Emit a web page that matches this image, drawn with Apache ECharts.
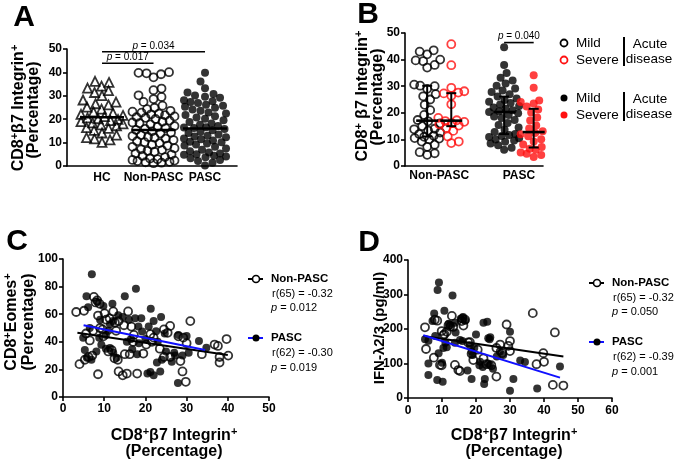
<!DOCTYPE html>
<html><head><meta charset="utf-8">
<script src="https://cdn.jsdelivr.net/npm/echarts@6/dist/echarts.min.js"></script>
<style>html,body{margin:0;padding:0;background:#fff}#c{width:675px;height:460px}</style>
</head><body><div id="c"></div>
<script>
// ---------- Panel A data ----------
const catsA = ['HC', 'Non-PASC', 'PASC'];
const hcA = [36.2, 35.7, 34.1, 33.3, 32.2, 31.4, 30.1, 28.2, 27.3, 26.6, 26.1, 25.2, 24.3, 23.1, 22.6, 22.1, 21.6, 21.1, 20.6, 20.2, 19.9, 19.4, 19.0, 18.4, 18.0, 17.6, 17.2, 16.4, 16.1, 15.2, 14.1, 13.2, 12.1, 11.6, 11.2, 10.1];
const nonPascA = [40.1, 39.8, 39.6, 39.2, 37.9, 33.1, 32.4, 30.2, 29.5, 28.6, 27.4, 25.8, 24.9, 24.3, 23.6, 23.2, 22.8, 22.1, 21.7, 21.2, 20.6, 20.1, 19.4, 18.9, 18.3, 17.8, 17.1, 16.7, 16.2, 15.9, 15.4, 14.8, 14.3, 13.9, 13.2, 12.8, 12.4, 11.7, 11.1, 10.6, 10.2, 9.8, 9.1, 8.7, 8.2, 7.6, 7.1, 6.5, 6.1, 5.4, 4.9, 4.3, 3.8, 3.2, 2.9, 2.6, 2.3, 2.1, 1.8, 1.6, 1.4, 1.2, 22.4, 20.9, 18.6, 12.1, 6.8];
const pascA = [39.8, 36.1, 33.2, 31.4, 30.8, 30.1, 29.6, 29.2, 28.1, 27.7, 27.3, 26.9, 26.2, 25.8, 25.3, 24.9, 24.1, 23.6, 22.9, 22.4, 21.3, 20.7, 20.2, 19.6, 18.8, 18.2, 17.6, 17.1, 16.6, 16.2, 15.8, 15.3, 14.6, 14.1, 13.5, 12.9, 12.3, 11.8, 11.4, 10.9, 10.4, 10.1, 9.6, 8.8, 8.2, 7.5, 6.9, 6.3, 5.8, 5.3, 4.8, 4.4, 4.1, 3.7, 3.3, 2.6, 2.1, 1.4, 0.2, 16.4, 21.8, 12.6, 9.2, 5.0];
const sigPairsA = [[0, 1, 43.9], [0, 2, 48.8]];
const sigLabelsA = ['0.017', '0.034'];

// ---------- Panel B data ----------
const catsB = ['Non-PASC', 'PASC'];
const severityB = ['Mild', 'Severe'];
const diseaseLabelB = ['Acute', 'disease'];
const nonPascMildB = [43.5, 43.0, 42.0, 40.0, 39.7, 39.4, 38.0, 37.0, 30.6, 30.2, 30.0, 29.0, 27.0, 26.2, 25.0, 23.0, 21.0, 19.2, 17.3, 16.8, 16.0, 15.0, 14.0, 13.3, 12.6, 12.0, 11.4, 11.0, 10.5, 10.0, 9.2, 8.0, 7.2, 5.2, 4.8, 4.2, 13.8, 10.3];
const nonPascSevereB = [45.8, 37.9, 29.4, 28.1, 27.6, 27.3, 26.4, 23.2, 16.9, 18.1, 17.2, 16.6, 16.1, 15.7, 15.2, 14.3, 13.2, 11.1, 9.2, 8.6];
const pascMildB = [44.6, 38.0, 35.0, 33.2, 32.1, 31.0, 30.2, 29.1, 28.4, 27.8, 27.0, 26.1, 25.4, 24.8, 24.2, 23.7, 23.1, 22.6, 22.0, 21.5, 21.0, 20.6, 20.3, 19.8, 19.2, 18.6, 18.0, 17.3, 16.2, 15.4, 14.5, 13.6, 12.8, 12.0, 11.3, 10.9, 10.4, 10.0, 9.6, 9.1, 8.5, 7.8, 6.9, 6.1, 11.7];
const pascSevereB = [34.1, 29.4, 24.6, 24.1, 23.5, 23.0, 22.4, 21.2, 20.1, 18.2, 17.1, 15.2, 14.1, 13.1, 12.4, 11.9, 11.2, 10.1, 9.2, 8.1, 7.1, 6.5, 6.1, 5.6, 5.1, 4.6, 4.1, 3.4];
const sigPairsB = [[2, 3, 46.4]];
const sigLabelsB = ['0.040'];

// ---------- Panel C data ----------
const seriesNames = ['Non-PASC', 'PASC'];
const nonPascC = [[3.2,61.6],[5.1,62.5],[4.0,23.8],[5.6,46],[7.3,48],[7.5,72.5],[8.3,70],[8.9,67.5],[7.9,68.5],[8.5,59],[10.1,60.6],[10.5,56],[9.0,50],[9.6,49],[7.1,30],[6.2,29],[5.3,27],[8.5,16.5],[12.9,48],[12.2,62],[11.3,57],[13.5,55],[12.6,54],[15.8,62],[16.6,51],[15.0,31],[16.2,31],[17.2,45],[18.0,17],[13.5,18.5],[14.5,15.7],[15.5,17],[11.8,34],[11.0,33],[12.5,28],[13.3,27],[19.5,31.5],[21.2,45.5],[22.0,43],[24.5,49],[25.4,46.5],[26.0,51.5],[28.0,44],[29.2,43],[30.9,55],[30.0,39],[28.5,26],[29.0,18.5],[29.8,11],[23.5,35],[26.0,29],[24.5,29],[33.7,31],[36.8,38],[37.6,37],[38.0,29],[38.0,25],[39.7,42],[40.1,30],[21.6,40],[20.2,38],[17.0,40],[14.8,52],[9.8,44],[6.5,41]];
const pascC = [[7,89],[5.7,73],[6.1,65],[8.3,69],[9.8,66],[12,67.5],[15,73],[17.7,78.5],[21.3,64],[23.8,58],[22,55],[20.8,51],[19.2,47.5],[18.4,39],[16.8,34.6],[13.4,59.3],[12.2,55],[11.4,52.7],[10.4,45],[8.8,43],[4.9,43],[5.3,34],[5.8,28.4],[6.9,27],[8.1,33],[9.3,37.8],[10.4,35],[11.4,35.5],[12.2,32],[13,28.5],[21.2,18.1],[22,15.8],[23.6,18.5],[26.4,25.5],[27.2,30],[22.8,25],[24.7,46],[28,45],[30,44.2],[33,40.6],[34.8,35.6],[27.9,10.2],[18.3,51],[22.6,47.6],[14.5,58],[16,56],[17.5,57],[19,57],[15.5,40],[18,31],[20,42],[23,40],[25,33],[27,32],[29,30],[30.5,32],[6.5,50],[9,56],[11,48],[16.5,42],[24,27],[20.5,17]];
const fitNonPascC = [[3.5, 46.5], [40, 30.5]];
const fitPascC = [[5, 52], [34.5, 34]];
const statsC = ['r(65) = -0.32', 'r(62) = -0.30'];
const pValsC = ['0.012', '0.019'];

// ---------- Panel D data ----------
const nonPascD = [[5,205],[5.3,142],[7.9,227],[7.6,117],[9.4,96],[9.9,194],[10.4,182],[11.4,192],[11.9,211],[12.9,238],[13.3,206],[13.8,96],[15.3,78],[16.3,210],[16.8,227],[15.8,223],[18.2,162],[18.7,128],[19.2,110],[23.1,98],[22.2,115],[26,62],[27.7,130],[29,213],[29.5,151],[30,165],[30,136],[36.7,246],[37.8,98],[39.8,130],[40,105],[42.6,38],[43.2,190],[45.7,36],[8.6,224],[9.9,95],[10.7,185],[14.8,81],[17.7,161],[27.1,155],[26,145],[12.4,207],[16,230],[20.5,140],[24.5,95]];
const pascD = [[9.1,335],[8.7,313],[13.1,297],[7.7,245],[10.7,253],[7.2,223],[12.4,211],[13.8,218],[15.5,230],[16.2,235],[16.8,225],[22.2,218],[23.3,221],[20,184],[23.6,173],[24.2,176],[30,192],[5,170],[6,166],[10.4,145],[11.4,147],[15.3,168],[18.2,153],[18.7,134],[21.2,105],[24.1,96],[26.1,120],[27,135],[33,109],[34.4,104],[6,100],[6,67],[8.6,52],[10.2,47],[18.7,55],[22.4,40.6],[22.6,55],[31,55],[30,21],[38,27.5],[44.7,91],[12,215],[14,190],[16,165],[19,125],[21,95],[22,90],[25,85],[28,125],[17.5,80],[9,130],[11,160],[19.5,145],[23.5,100],[13.8,160],[10,102],[24,170],[8,180]];
const fitNonPascD = [[4.5, 180], [45.7, 120]];
const fitPascD = [[4.5, 182], [44.7, 59]];
const statsD = ['r(65) = -0.32', 'r(62) = -0.39'];
const pValsD = ['0.050', '0.001'];

// ---------- layout / helpers ----------
const FF = '"Liberation Sans", Arial, Helvetica, sans-serif';
const RED = '#ff1010';
const BLUE = '#1010ff';
const SYM = 8;
const posA = [1, 2, 3];
const posB = [1.06, 1.94, 3.87, 4.95];
const G = [
  {left: 67, top: 49, width: 170, height: 117},
  {left: 405, top: 33, width: 138, height: 133},
  {left: 63, top: 259, width: 206, height: 138},
  {left: 408, top: 260, width: 204, height: 138}
];
const XR = [[0.32, 3.621], [0.25, 5.29], [0, 50], [0, 60]];
const YR = [[0, 50], [0, 50], [0, 100], [0, 400]];
const pxX = i => G[i].width / (XR[i][1] - XR[i][0]);
const pxY = i => G[i].height / (YR[i][1] - YR[i][0]);

function swarm(vals, pos, gi, diam, maxHalf) {
  const py = pxY(gi), px = pxX(gi);
  const order = vals.map((v, i) => i).sort((a, b) => vals[a] - vals[b]);
  const placed = [], out = [];
  order.forEach((i, n) => {
    const y = vals[i] * py;
    const sgn = n % 2 ? 1 : -1;
    let best = 0, bestD = -1;
    for (let k = 0; k <= maxHalf * 4; k++) {
      const c = (k % 2 ? sgn : -sgn) * Math.ceil(k / 2) * 0.5;
      let dmin = Infinity;
      for (const p of placed) { const d = Math.hypot(p[0] - c, p[1] - y); if (d < dmin) dmin = d; }
      if (dmin >= diam) { best = c; bestD = dmin; break; }
      if (dmin > bestD) { bestD = dmin; best = c; }
    }
    placed.push([best, y]);
    out.push([pos + best / px, vals[i]]);
  });
  return out;
}
function quant(arr, q) {
  const s = [...arr].sort((a, b) => a - b);
  const p = (s.length - 1) * q, lo = Math.floor(p), hi = Math.ceil(p);
  return s[lo] + (s[hi] - s[lo]) * (p - lo);
}

const axisLine = {show: true, onZero: false, lineStyle: {color: '#000', width: 1.6}};
const axisTick = {show: true, length: 4, lineStyle: {color: '#000', width: 1.6}};
const lbl = {color: '#000', fontWeight: 'bold', fontSize: 12, fontFamily: FF};

function xAx(i, extra) {
  return Object.assign({gridIndex: i, type: 'value', min: XR[i][0], max: XR[i][1],
    axisLine, axisTick, splitLine: {show: false}, axisLabel: Object.assign({}, lbl, {margin: 6})}, extra || {});
}
function yAx(i, interval) {
  return {gridIndex: i, type: 'value', min: YR[i][0], max: YR[i][1], interval,
    axisLine, axisTick, splitLine: {show: false}, axisLabel: Object.assign({}, lbl, {margin: 5})};
}

const openStyle = c => ({color: 'rgba(255,255,255,0)', borderColor: c, borderWidth: 1.8});
const fillStyle = c => ({color: c, borderColor: c, borderWidth: 0});

function medianSeries(gi, data, hw, bars) {
  return {
    type: 'custom', xAxisIndex: gi, yAxisIndex: gi, z: 10, silent: true,
    encode: {x: 0, y: [1, 2, 3]},
    data,
    renderItem: (params, api) => {
      const x = api.value(0);
      const pm = api.coord([x, api.value(1)]);
      const ch = [];
      if (bars) {
        const pl = api.coord([x, api.value(2)]), ph = api.coord([x, api.value(3)]);
        ch.push({type: 'line', shape: {x1: pm[0], y1: pl[1], x2: pm[0], y2: ph[1]}, style: {stroke: '#000', lineWidth: 2}});
        ch.push({type: 'line', shape: {x1: pm[0] - 5, y1: pl[1], x2: pm[0] + 5, y2: pl[1]}, style: {stroke: '#000', lineWidth: 2}});
        ch.push({type: 'line', shape: {x1: pm[0] - 5, y1: ph[1], x2: pm[0] + 5, y2: ph[1]}, style: {stroke: '#000', lineWidth: 2}});
      }
      ch.push({type: 'line', shape: {x1: pm[0] - hw, y1: pm[1], x2: pm[0] + hw, y2: pm[1]}, style: {stroke: '#000', lineWidth: 2.6}});
      return {type: 'group', children: ch};
    }
  };
}
function sigSeries(gi, data, labels) {
  return {
    type: 'custom', xAxisIndex: gi, yAxisIndex: gi, z: 10, silent: true,
    encode: {x: [0, 1], y: 2},
    data,
    renderItem: (params, api) => {
      const p1 = api.coord([api.value(0), api.value(2)]);
      const p2 = api.coord([api.value(1), api.value(2)]);
      return {type: 'group', children: [
        {type: 'line', shape: {x1: p1[0], y1: p1[1], x2: p2[0], y2: p2[1]}, style: {stroke: '#000', lineWidth: 1.6}},
        {type: 'text', x: (p1[0] + p2[0]) / 2, y: p1[1] - 1, style: {
          text: '{i|p}{n| = ' + labels[params.dataIndex] + '}',
          rich: {i: {fontStyle: 'italic', fontSize: 10, fontFamily: FF, fill: '#000'}, n: {fontSize: 10, fontFamily: FF, fill: '#000'}},
          fontSize: 10, fontFamily: FF, fill: '#000',
          align: 'center', verticalAlign: 'bottom', textAlign: 'center', textVerticalAlign: 'bottom'}}
      ]};
    }
  };
}

// ---------- text helpers ----------
function richTitle(parts) {
  return parts.map(p => (p[1] ? '{s|' : '{b|') + p[0] + '}').join('');
}
function tText(x, y, text, fs, rot, extraRich) {
  return {type: 'text', x, y, rotation: rot || 0, silent: true, style: {
    text, fontSize: fs, fontWeight: 'bold', fontFamily: FF, fill: '#000',
    align: 'center', verticalAlign: 'middle', textAlign: 'center', textVerticalAlign: 'middle',
    rich: Object.assign({
      b: {fontSize: fs, fontWeight: 'bold', fontFamily: FF, fill: '#000', lineHeight: fs + 3},
      s: {fontSize: Math.round(fs * 0.7), fontWeight: 'bold', fontFamily: FF, fill: '#000', lineHeight: Math.round(fs * 0.55), verticalAlign: 'top'}
    }, extraRich || {})
  }};
}
function plainText(x, y, text, fs, opts) {
  return {type: 'text', x, y, silent: true, style: Object.assign({
    text, fontSize: fs, fontFamily: FF, fill: '#000',
    align: 'left', verticalAlign: 'middle', textAlign: 'left', textVerticalAlign: 'middle'}, opts || {})};
}
function pText(x, y, val, fs) {
  return {type: 'text', x, y, silent: true, style: {
    text: '{i|p}{n| = ' + val + '}',
    rich: {i: {fontStyle: 'italic', fontSize: fs, fontFamily: FF, fill: '#000'}, n: {fontSize: fs, fontFamily: FF, fill: '#000'}},
    fontSize: fs, fontFamily: FF, fill: '#000',
    align: 'left', verticalAlign: 'middle', textAlign: 'left', textVerticalAlign: 'middle'}};
}
function legendLine(x, y, color, filled) {
  return [
    {type: 'line', silent: true, shape: {x1: x, y1: y, x2: x + 15, y2: y}, style: {stroke: color, lineWidth: 2}},
    {type: 'circle', silent: true, shape: {cx: x + 8, cy: y, r: 3.5}, style: filled ? {fill: '#000'} : {fill: '#fff', stroke: '#000', lineWidth: 1.6}}
  ];
}
function corrLegend(x, y, stats, pvals) {
  const out = [];
  out.push(...legendLine(x, y, '#000', false));
  out.push(plainText(x + 23, y, seriesNames[0], 11.5, {fontWeight: 'bold'}));
  out.push(plainText(x + 24, y + 15, stats[0], 11));
  out.push(pText(x + 23, y + 29, pvals[0], 11));
  const y2 = y + 59;
  out.push(...legendLine(x, y2, BLUE, true));
  out.push(plainText(x + 23, y2, seriesNames[1], 11.5, {fontWeight: 'bold'}));
  out.push(plainText(x + 24, y2 + 15, stats[1], 11));
  out.push(pText(x + 23, y2 + 30, pvals[1], 11));
  return out;
}
function sevLegend(y, filled) {
  const out = [];
  [0, 1].forEach(k => {
    const c = k ? RED : '#000';
    const yy = y + k * 17;
    out.push({type: 'circle', silent: true, shape: {cx: 564, cy: yy, r: 3.5},
      style: filled ? {fill: c} : {fill: '#fff', stroke: c, lineWidth: 1.8}});
    out.push(plainText(576, yy, severityB[k], 13.5));
  });
  out.push({type: 'line', silent: true, shape: {x1: 624, y1: y - 6, x2: 624, y2: y + 23}, style: {stroke: '#000', lineWidth: 2}});
  out.push(plainText(650, y + 1, diseaseLabelB[0], 13.5, {align: 'center', textAlign: 'center'}));
  out.push(plainText(649, y + 16, diseaseLabelB[1], 13.5, {align: 'center', textAlign: 'center'}));
  return out;
}

const integrinTitle = richTitle([['CD8', 0], ['+', 1], ['β7 Integrin', 0], ['+', 1]]);
const integrinTitleB = richTitle([['CD8', 0], ['+', 1], [' β7 Integrin', 0], ['+', 1]]);
const eomesTitle = richTitle([['CD8', 0], ['+', 1], ['Eomes', 0], ['+', 1]]);
const pctTitle = richTitle([['(Percentage)', 0]]);
const ifnTitle = richTitle([['IFN-λ2/3 (pg/ml)', 0]]);
const R = Math.PI / 2;
const bigLetter = {b: {fontSize: 30, fontWeight: 'bold', fontFamily: FF, fill: '#000'}};

const graphics = [
  tText(24, 18, '{b|A}', 30, 0, bigLetter),
  tText(368, 15, '{b|B}', 30, 0, bigLetter),
  tText(17, 242, '{b|C}', 30, 0, bigLetter),
  tText(369, 243, '{b|D}', 30, 0, bigLetter),
  tText(19, 108, integrinTitle, 16, R),
  tText(34, 110, pctTitle, 16, R),
  tText(363, 96, integrinTitleB, 16, R),
  tText(378, 97, pctTitle, 16, R),
  tText(12, 322, eomesTitle, 16, R),
  tText(29, 322, pctTitle, 16, R),
  tText(380, 328, ifnTitle, 15, R),
  tText(174, 436, integrinTitle, 16, 0),
  tText(174, 452, pctTitle, 16, 0),
  tText(514, 436, integrinTitle, 16, 0),
  tText(514, 452, pctTitle, 16, 0),
  ...sevLegend(43, false),
  ...sevLegend(98, true),
  ...corrLegend(248, 279, statsC, pValsC),
  ...corrLegend(589, 283, statsD, pValsD)
];

const groupsA = [hcA, nonPascA, pascA];
const groupsB = [nonPascMildB, nonPascSevereB, pascMildB, pascSevereB];

const option = {
  animation: false,
  backgroundColor: '#fff',
  grid: G,
  xAxis: [
    xAx(0, {axisTick: {show: false}, axisLabel: Object.assign({}, lbl, {margin: 6, customValues: posA, formatter: v => catsA[posA.indexOf(v)] || ''})}),
    xAx(1, {axisTick: {show: false}, axisLabel: Object.assign({}, lbl, {margin: 4, customValues: [1.5, 4.41], formatter: v => v < 3 ? catsB[0] : catsB[1]})}),
    xAx(2, {interval: 10}),
    xAx(3, {interval: 10, axisLabel: Object.assign({}, lbl, {margin: 7})})
  ],
  yAxis: [yAx(0, 10), yAx(1, 10), yAx(2, 20), yAx(3, 100)],
  series: [
    // Panel A
    {type: 'scatter', name: catsA[0], xAxisIndex: 0, yAxisIndex: 0, symbol: 'triangle', symbolSize: 9,
      itemStyle: openStyle('#000'), data: swarm(hcA, posA[0], 0, 8, 21)},
    {type: 'scatter', name: catsA[1], xAxisIndex: 0, yAxisIndex: 0, symbol: 'circle', symbolSize: SYM,
      itemStyle: openStyle('#000'), data: swarm(nonPascA, posA[1], 0, 8, 21)},
    {type: 'scatter', name: catsA[2], xAxisIndex: 0, yAxisIndex: 0, symbol: 'circle', symbolSize: SYM,
      itemStyle: fillStyle('#000'), data: swarm(pascA, posA[2], 0, 8, 21)},
    medianSeries(0, groupsA.map((g, i) => [posA[i], quant(g, 0.5), quant(g, 0.25), quant(g, 0.75)]), 22, false),
    sigSeries(0, sigPairsA.map(s => [posA[s[0]], posA[s[1]], s[2]]), sigLabelsA),
    // Panel B
    {type: 'scatter', xAxisIndex: 1, yAxisIndex: 1, symbolSize: SYM, itemStyle: openStyle('#000'), data: swarm(nonPascMildB, posB[0], 1, 7.5, 13)},
    {type: 'scatter', xAxisIndex: 1, yAxisIndex: 1, symbolSize: SYM, itemStyle: openStyle(RED), data: swarm(nonPascSevereB, posB[1], 1, 7.5, 13)},
    {type: 'scatter', xAxisIndex: 1, yAxisIndex: 1, symbolSize: SYM, itemStyle: fillStyle('#000'), data: swarm(pascMildB, posB[2], 1, 7.5, 15)},
    {type: 'scatter', xAxisIndex: 1, yAxisIndex: 1, symbolSize: SYM, itemStyle: fillStyle(RED), data: swarm(pascSevereB, posB[3], 1, 7.5, 13)},
    medianSeries(1, groupsB.map((g, i) => [posB[i], quant(g, 0.5), quant(g, 0.25), quant(g, 0.75)]), 11, true),
    sigSeries(1, sigPairsB.map(s => [posB[s[0]], posB[s[1]], s[2]]), sigLabelsB),
    // Panel C
    {type: 'scatter', name: seriesNames[0], xAxisIndex: 2, yAxisIndex: 2, symbolSize: SYM, itemStyle: openStyle('#000'), data: nonPascC},
    {type: 'scatter', name: seriesNames[1], xAxisIndex: 2, yAxisIndex: 2, symbolSize: SYM, itemStyle: fillStyle('#000'), data: pascC},
    {type: 'line', xAxisIndex: 2, yAxisIndex: 2, showSymbol: false, z: 8, lineStyle: {color: '#000', width: 2}, data: fitNonPascC},
    {type: 'line', xAxisIndex: 2, yAxisIndex: 2, showSymbol: false, z: 8, lineStyle: {color: BLUE, width: 2}, data: fitPascC},
    // Panel D
    {type: 'scatter', name: seriesNames[0], xAxisIndex: 3, yAxisIndex: 3, symbolSize: SYM, itemStyle: openStyle('#000'), data: nonPascD},
    {type: 'scatter', name: seriesNames[1], xAxisIndex: 3, yAxisIndex: 3, symbolSize: SYM, itemStyle: fillStyle('#000'), data: pascD},
    {type: 'line', xAxisIndex: 3, yAxisIndex: 3, showSymbol: false, z: 8, lineStyle: {color: '#000', width: 2}, data: fitNonPascD},
    {type: 'line', xAxisIndex: 3, yAxisIndex: 3, showSymbol: false, z: 8, lineStyle: {color: BLUE, width: 2}, data: fitPascD}
  ],
  graphic: graphics
};
const chart = echarts.init(document.getElementById('c'), null, {renderer: 'canvas'});
chart.setOption(option);
</script>
</body></html>
